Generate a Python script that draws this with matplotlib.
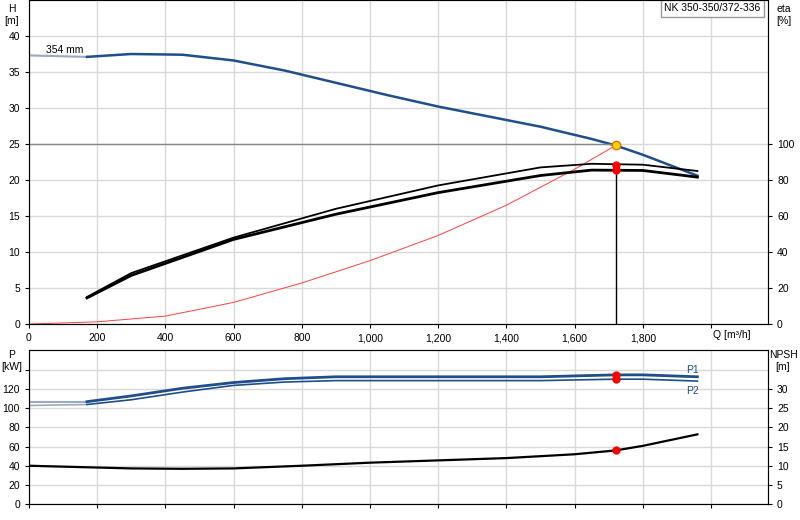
import matplotlib
matplotlib.use("Agg")
import matplotlib.pyplot as plt
import numpy as np

plt.rcParams['font.family'] = ['Liberation Sans', 'DejaVu Sans']

q_h = [0, 170, 300, 450, 600, 750, 900, 1050, 1200, 1350, 1500, 1650, 1720, 1800, 1960]
h = [37.3, 37.1, 37.5, 37.4, 36.6, 35.2, 33.5, 31.8, 30.2, 28.8, 27.4, 25.7, 24.8, 23.5, 20.6]
q_eta = [170, 300, 600, 900, 1200, 1500, 1650, 1800, 1960]
eta1 = [15, 28.3, 48, 64, 77, 87, 89, 88.5, 85]
eta2 = [14.5, 27, 47, 61, 73, 82.5, 85.5, 85.3, 81.6]
q_sys = [0, 200, 400, 600, 800, 1000, 1200, 1400, 1600, 1720]
h_sys = [0, 0.3, 1.1, 3.0, 5.7, 8.8, 12.3, 16.5, 21.5, 24.8]
q_p = [0, 170, 300, 450, 600, 750, 900, 1200, 1500, 1720, 1800, 1960]
p1 = [107, 107, 113, 121, 127, 131, 133, 133, 133, 135, 135, 133]
p2 = [103, 104, 109, 117, 124, 127.5, 129, 129, 129, 130.5, 130.5, 128.5]
q_npsh = [0, 170, 300, 450, 600, 800, 1000, 1200, 1400, 1600, 1720, 1800, 1960]
npsh = [10, 9.6, 9.3, 9.2, 9.3, 10, 10.8, 11.4, 12, 13, 14, 15.2, 18.2]
q_duty = 1720
h_duty = 24.8
eta_duty = [88.5, 85.5]
p_duty = [135, 130.5]
npsh_duty = 14.1

blue = "#1f4e8c"; lblue = "#9aa8c0"; grid = "#d9d9d9"
fs = 7.5
fig = plt.figure(figsize=(8, 5.2), dpi=100)
ax = fig.add_axes([29/800, 196/520, 739/800, 324/520])
ax2 = ax.twinx()
bx = fig.add_axes([29/800, 16/520, 739/800, 154/520])
bx2 = bx.twinx()

for a in (ax, bx):
    a.set_xlim(0, 2167)
    a.set_xticks(range(0, 2001, 200))
    a.grid(True, color=grid, lw=1)
    a.set_axisbelow(True)
    a.tick_params(labelsize=fs, length=3)
    for s in a.spines.values():
        s.set_color("#555555")

ax.set_ylim(0, 45)
ax.set_yticks(range(0, 41, 5))
ax.set_xticklabels(["0", "200", "400", "600", "800", "1,000", "1,200", "1,400", "1,600", "1,800", ""])
ax2.set_ylim(0, 180)
ax2.set_yticks(range(0, 101, 20))
ax2.tick_params(labelsize=fs, length=3)

iq = q_h.index(170)
ax.plot(q_h[:iq+1], h[:iq+1], color=lblue, lw=1.5)
ax.plot(q_h[iq:], h[iq:], color=blue, lw=1.8)
ax.plot(q_sys, h_sys, color="#ff4040", lw=0.7)
ax.plot([0, q_duty], [25, 25], color="#888888", lw=1)
ax2.plot(q_eta, eta1, color="black", lw=1.3)
ax2.plot(q_eta, eta2, color="black", lw=2)
ax2.plot([q_duty, q_duty], [0, eta_duty[0]], color="black", lw=1)
ax2.plot([q_duty]*2, eta_duty, "o", color="red", ms=5)
ax.plot(q_duty, h_duty, "o", color="#ffd700", mec="#e07000", ms=6, zorder=5)
ax.text(50, 37.6, "354 mm", fontsize=fs)
ax.text(2060, -0.8, "Q [m³/h]", fontsize=fs, ha="center", va="top")
fig.text(12/800, 1-4/520, "H\n[m]", fontsize=fs, ha="center", va="top")
fig.text(784/800, 1-4/520, "eta\n[%]", fontsize=fs, ha="center", va="top")
ax.text(0.99, 0.99, "NK 350-350/372-336", transform=ax.transAxes, fontsize=fs, ha="right", va="top",
        bbox=dict(facecolor="white", edgecolor="#999999", boxstyle="square,pad=0.35"))

bx.set_ylim(0, 161)
bx.set_yticks(range(0, 141, 20))
bx.set_yticklabels([str(v) for v in range(0, 121, 20)] + [""])
bx.set_xticklabels([])
bx2.set_ylim(0, 40.25)
bx2.set_yticks(range(0, 31, 5))
bx2.tick_params(labelsize=fs, length=3)
ip = q_p.index(170)
bx.plot(q_p[:ip+1], p1[:ip+1], color=lblue, lw=1.5)
bx.plot(q_p[ip:], p1[ip:], color=blue, lw=2)
bx.plot(q_p[:ip+1], p2[:ip+1], color=lblue, lw=1.2)
bx.plot(q_p[ip:], p2[ip:], color=blue, lw=1.2)
bx.plot([q_duty]*2, p_duty, "o", color="red", ms=5)
bx.text(1965, 137, "P1", color=blue, fontsize=fs, ha="right")
bx.text(1965, 115, "P2", color=blue, fontsize=fs, ha="right")
bx2.plot(q_npsh, npsh, color="black", lw=1.6)
bx2.plot(q_duty, npsh_duty, "o", color="red", ms=5)
fig.text(12/800, 1-350/520, "P\n[kW]", fontsize=fs, ha="center", va="top")
fig.text(783/800, 1-350/520, "NPSH\n[m]", fontsize=fs, ha="center", va="top")

fig.savefig("out.png", dpi=100)
